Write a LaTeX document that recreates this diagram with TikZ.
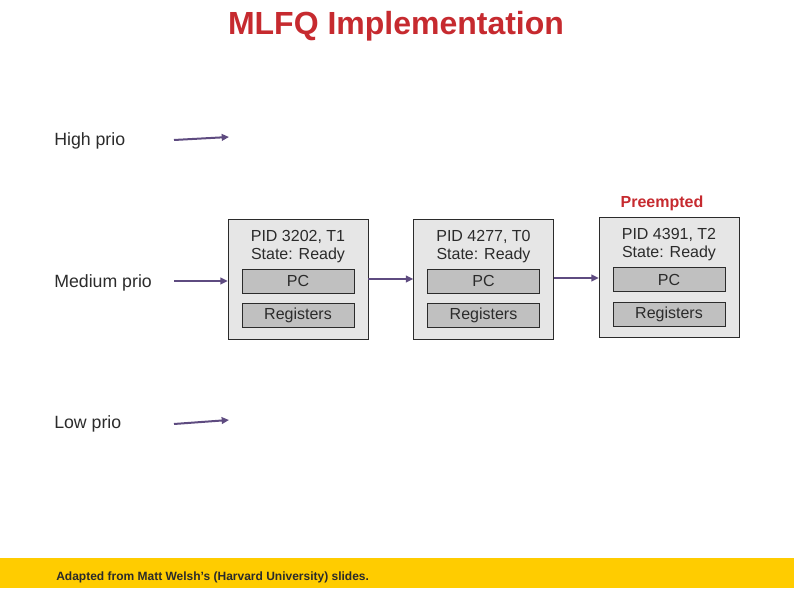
\documentclass[tikz,border=0pt]{standalone}
\usepackage{fontspec}
\setmainfont{Liberation Sans}
\usetikzlibrary{arrows.meta,positioning}
\definecolor{mlred}{HTML}{C62A2F}
\definecolor{mlarrow}{HTML}{5E4B80}
\definecolor{mlpanel}{HTML}{E6E6E6}
\definecolor{mlslot}{HTML}{C0C0C0}
\definecolor{mlink}{HTML}{2B2B2B}
\definecolor{mlband}{HTML}{FFCC00}
\tikzset{
  pcb/.style={draw=mlink, fill=mlpanel, minimum width=105pt, minimum height=90pt, inner sep=0pt},
  slot/.style={draw=mlink, fill=mlslot, minimum width=84pt, minimum height=18pt, inner sep=0pt, font=\fontsize{12}{14}\selectfont, text=mlink},
  hdr/.style={align=center, font=\fontsize{12}{13.5}\selectfont, text=mlink, inner sep=0pt},
  qlbl/.style={anchor=west, font=\fontsize{13.3}{15}\selectfont, text=mlink, inner sep=0pt},
  arr/.style={-{Triangle[length=5.5pt,width=5pt]}, line width=1.5pt, color=mlarrow},
}
\begin{document}
\begin{tikzpicture}[x=0.75pt,y=-0.75pt]
  \useasboundingbox (0,0) rectangle (794,595);
  \fill[mlband] (0,558) rectangle (794,588);
  \node[font=\bfseries\fontsize{24}{28}\selectfont, text=mlred] (title) at (396,26) {MLFQ Implementation};
  % queue heads
  \node[qlbl] (high) at (54,141) {High prio};
  \node[qlbl] (med) at (54,283) {Medium prio};
  \node[qlbl] (low) at (54,424) {Low prio};
  \coordinate (hightail) at (174,140); \coordinate (highhead) at (229,137);
  \coordinate (medtail) at (174,281);
  \coordinate (lowtail) at (174,424); \coordinate (lowhead) at (229,420);
  \draw[arr] (hightail) -- (highhead);
  \draw[arr] (lowtail) -- (lowhead);
  % process control blocks
  \node[pcb] (pa) at (298,279) {};
  \node[hdr, anchor=north] (pahd) at (298,230) {PID 3202, T1\\State: Ready};
  \node[slot] (papc) at (298,281) {PC};
  \node[slot] (pareg) at (298,315) {Registers};
  \node[pcb] (pb) at (483.5,279) {};
  \node[hdr, anchor=north] (pbhd) at (483.5,230) {PID 4277, T0\\State: Ready};
  \node[slot] (pbpc) at (483.5,281) {PC};
  \node[slot] (pbreg) at (483.5,315) {Registers};
  \node[pcb] (pc) at (669,277.5) {};
  \node[hdr, anchor=north] (pchd) at (669,228) {PID 4391, T2\\State: Ready};
  \node[slot] (pcpc) at (669,279.5) {PC};
  \node[slot] (pcreg) at (669,314) {Registers};
  \node[font=\bfseries\fontsize{12}{14}\selectfont, text=mlred] (pre) at (662,203.5) {Preempted};
  \draw[arr] (medtail) -- (medtail -| pa.west);
  \draw[arr] (pa.east |- 0,279) -- (pb.west |- 0,279);
  \draw[arr] (pb.east |- 0,278) -- (pc.west |- 0,278);
  \node[anchor=west, font=\bfseries\fontsize{9}{10}\selectfont, text=mlink, inner sep=0pt] (src) at (56,577.5) {Adapted from Matt Welsh's (Harvard University) slides.};
\end{tikzpicture}
\end{document}
